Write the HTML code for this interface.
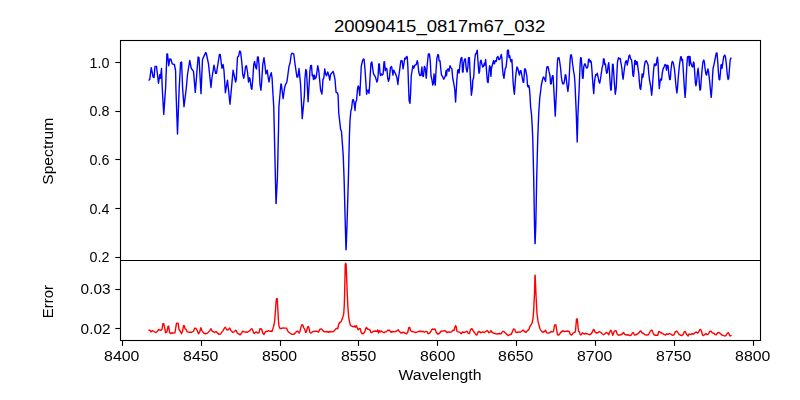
<!DOCTYPE html>
<html><head><meta charset="utf-8">
<style>
html,body{margin:0;padding:0;background:#fff;}
body{width:800px;height:400px;overflow:hidden;font-family:"Liberation Sans",sans-serif;}
svg{display:block}
text{font-family:"Liberation Sans",sans-serif;fill:#000}
</style></head><body>
<svg width="800" height="400" viewBox="0 0 800 400">
<rect width="800" height="400" fill="#fff"/>
<g opacity="0.999"><text x="439.6" y="31.9" font-size="16.80" text-anchor="middle" textLength="211.30" lengthAdjust="spacingAndGlyphs">20090415_0817m67_032</text></g>
<polyline fill="none" stroke="#0000ff" stroke-width="1.4" stroke-linejoin="round" stroke-linecap="butt" points="148.50,80.50 149.75,79.50 151.25,67.60 153.10,77.00 154.00,77.60 155.00,66.40 156.50,66.40 158.50,83.25 159.75,74.75 160.40,78.25 161.50,68.50 162.25,88.00 163.75,114.50 165.60,88.00 166.90,53.90 167.50,53.90 168.75,65.75 169.75,58.90 171.00,59.50 172.25,63.90 174.40,64.50 175.60,70.75 175.90,88.00 177.50,134.00 179.20,88.00 180.60,62.60 181.60,62.00 182.60,88.00 184.00,106.75 186.30,88.00 187.50,74.50 189.75,60.50 191.25,68.25 193.50,71.40 195.30,92.40 198.10,57.00 199.00,57.60 201.00,93.60 202.50,59.50 205.60,52.60 206.25,53.25 208.50,63.90 211.00,87.50 211.90,78.25 214.00,65.10 215.60,73.25 216.50,73.25 219.40,54.50 220.25,54.50 221.90,68.25 223.10,64.50 224.00,70.75 225.40,92.75 227.50,80.10 230.00,104.25 233.10,70.10 235.60,82.00 236.25,79.50 237.50,57.00 238.50,56.40 239.75,51.00 240.60,52.00 241.90,63.25 242.75,74.50 243.75,78.25 244.75,73.25 245.60,66.40 246.50,65.75 247.50,72.00 248.50,82.00 249.40,77.60 250.00,78.90 251.25,88.25 251.90,89.25 252.75,79.50 253.75,64.50 254.60,61.40 255.60,67.00 256.50,68.90 257.50,57.00 258.25,57.00 259.00,64.50 260.00,84.50 260.90,90.25 261.60,83.25 262.75,64.50 264.00,57.60 265.00,65.75 265.90,73.90 266.50,72.60 267.25,70.10 268.10,77.00 269.00,82.00 270.00,76.40 271.25,72.60 272.10,78.25 272.60,88.00 273.75,106.75 274.30,130.00 275.40,178.00 276.00,203.50 276.10,203.50 277.40,178.00 278.50,130.00 278.90,106.75 280.10,93.00 280.90,84.00 281.40,84.50 283.10,98.60 284.50,88.50 285.25,85.10 286.90,82.00 288.10,73.25 289.00,66.40 290.00,63.25 291.25,54.50 291.90,53.25 293.75,53.90 294.75,62.00 296.00,70.75 296.90,77.00 297.90,77.00 299.00,68.50 299.60,74.50 300.60,85.00 302.25,118.60 304.40,95.50 304.90,79.50 305.75,69.50 306.50,70.75 307.25,85.00 308.10,101.75 309.40,80.00 309.90,71.00 310.60,65.75 311.50,65.50 312.25,75.75 312.90,75.10 313.50,79.50 314.40,75.10 315.00,78.90 316.25,77.00 317.75,65.75 318.75,70.75 319.75,80.75 320.60,90.10 321.90,94.00 322.60,86.00 322.90,79.50 323.75,78.25 324.75,68.90 325.60,73.90 326.50,75.75 327.75,72.00 328.75,75.10 329.75,80.10 330.60,74.50 331.90,72.90 333.10,71.40 334.00,74.50 335.00,79.50 335.70,88.00 336.10,92.40 337.50,93.00 338.10,95.50 338.75,113.00 339.75,121.75 340.60,129.25 341.50,131.50 343.20,155.00 344.10,179.00 345.30,225.00 346.00,249.75 346.10,249.75 347.00,225.00 348.40,178.00 349.40,136.00 350.00,120.50 350.90,110.50 351.50,109.25 352.50,100.50 353.25,99.50 354.00,101.75 355.00,110.50 355.60,103.00 356.60,99.90 357.50,89.00 358.20,85.90 358.80,87.00 359.75,95.50 360.40,84.00 361.25,66.40 362.50,60.75 363.50,58.90 364.10,59.50 365.00,69.50 366.00,84.50 366.60,94.25 367.50,90.50 368.10,90.00 369.00,93.25 369.60,86.00 370.00,78.25 371.00,63.25 371.90,62.00 372.50,67.00 373.50,73.90 374.75,75.75 375.60,77.60 376.90,82.00 377.50,80.75 378.10,75.75 378.75,63.90 379.40,63.90 380.00,73.25 380.60,75.50 381.25,73.90 382.25,75.10 383.10,73.90 384.00,62.00 384.50,61.75 385.25,70.75 386.00,68.25 386.90,68.90 387.75,78.25 388.50,81.40 389.40,78.25 390.40,67.60 391.50,66.40 392.25,70.10 392.90,75.10 393.75,70.10 394.60,72.00 395.60,73.90 396.90,77.60 397.90,84.50 398.50,78.25 399.40,72.00 400.25,65.10 400.90,60.75 402.10,60.75 403.10,68.90 404.00,63.25 404.75,58.25 405.60,58.90 406.50,56.40 407.25,57.00 407.90,67.00 408.50,85.00 409.10,100.50 410.00,103.25 410.60,93.00 411.25,76.00 412.25,69.50 412.90,65.75 413.75,68.25 415.00,65.10 416.25,64.50 417.25,60.75 417.90,63.25 418.75,72.00 419.75,75.50 421.00,75.10 421.90,67.00 422.50,75.75 423.40,76.40 424.40,66.40 425.25,68.25 426.25,78.25 427.25,64.50 428.40,53.90 429.40,53.90 430.25,60.75 431.00,75.75 431.90,79.50 432.75,85.10 433.50,83.25 434.00,73.90 434.60,79.50 435.25,85.10 436.00,70.75 436.90,58.25 437.90,54.50 438.50,55.10 439.10,60.75 440.00,60.75 440.60,67.00 441.50,75.10 442.50,76.40 443.75,79.25 444.60,77.60 445.40,75.75 446.00,70.75 446.50,75.75 447.25,69.50 448.25,68.90 449.00,71.40 450.00,65.75 450.90,67.60 451.90,68.90 452.75,78.25 453.75,83.25 454.75,89.50 455.60,102.00 456.50,86.00 456.90,79.50 457.75,70.10 458.50,69.75 459.10,73.00 460.00,64.50 460.90,58.25 461.90,57.60 462.50,72.00 463.10,72.00 463.75,62.60 464.75,58.90 465.40,58.90 466.25,68.90 467.10,72.00 467.90,67.00 468.50,57.60 469.40,57.60 470.00,70.75 470.60,82.00 471.40,95.25 472.40,88.00 472.75,80.75 473.75,77.00 474.60,60.75 475.40,54.50 476.25,53.25 477.25,50.10 477.75,58.25 478.50,68.25 479.00,73.25 479.60,71.40 480.25,62.00 481.00,60.10 481.90,63.90 482.75,67.00 483.50,66.40 484.40,63.25 485.00,65.10 485.60,59.50 486.25,67.00 486.90,75.75 487.50,82.00 488.10,82.60 488.75,74.50 489.60,65.75 490.25,67.00 490.90,76.40 491.50,68.25 492.50,64.50 493.50,60.75 494.40,63.90 495.25,60.75 496.25,61.40 496.90,57.60 497.90,56.40 498.75,59.50 499.60,59.50 500.40,57.60 501.25,54.50 501.90,58.25 502.50,68.25 503.10,74.50 504.00,78.25 504.60,73.25 505.25,68.25 506.00,67.60 506.90,59.50 507.50,50.10 508.40,50.10 509.00,57.60 509.75,55.75 510.60,60.75 511.25,62.00 511.90,59.50 512.50,69.50 513.10,82.00 513.75,89.50 514.40,94.25 515.25,82.00 516.00,73.25 516.90,67.00 517.75,68.25 518.75,72.60 519.40,75.10 520.25,70.75 521.00,70.75 521.90,75.75 523.10,82.00 523.75,82.30 524.60,68.90 525.40,68.90 526.25,73.25 526.90,76.40 527.50,85.75 528.10,87.00 528.75,85.50 529.40,88.25 530.00,95.50 530.60,106.75 531.50,114.25 532.25,127.00 532.75,138.00 533.70,178.00 534.50,225.00 535.00,243.60 535.10,243.60 535.80,225.00 536.70,178.00 537.75,138.00 538.75,113.00 539.75,98.00 540.80,90.00 541.25,85.75 542.25,80.75 543.10,77.60 543.75,77.00 544.75,79.50 545.60,81.40 546.25,72.00 546.90,67.00 548.10,66.75 549.00,71.40 550.00,75.75 550.60,83.90 551.25,83.90 551.90,78.25 552.50,75.75 553.10,76.00 553.75,88.00 555.25,116.10 556.60,88.00 556.90,73.25 557.50,60.75 558.10,57.60 559.00,57.60 559.75,62.00 560.60,68.25 561.25,75.75 561.90,80.75 562.75,83.90 563.75,83.90 564.60,80.10 565.25,74.75 565.90,75.10 566.50,80.75 567.25,87.00 567.90,91.50 568.75,84.50 569.40,73.25 570.00,62.00 570.60,55.10 571.25,54.75 571.90,57.60 572.50,63.25 573.50,70.75 574.40,75.75 575.00,84.00 576.25,113.00 577.20,142.10 578.00,113.00 579.20,88.00 579.50,79.50 580.00,67.00 580.60,57.60 581.25,58.00 581.90,67.00 582.50,78.25 583.10,78.25 583.75,67.00 584.60,63.90 585.25,63.90 586.25,67.60 587.10,68.00 587.90,66.40 588.50,59.50 589.10,58.90 590.00,62.00 590.60,60.75 591.25,62.00 591.90,69.50 592.50,78.25 593.10,87.00 593.75,93.60 594.40,83.25 595.00,78.25 595.60,74.75 596.50,75.10 597.25,73.25 598.10,77.00 599.00,82.00 599.75,83.25 600.60,78.25 601.50,72.00 602.25,67.00 602.90,65.10 603.50,58.90 604.10,58.90 604.75,64.50 605.40,63.90 606.00,69.50 606.60,73.25 607.25,72.60 608.10,65.75 608.75,62.60 609.40,70.75 610.00,80.75 610.70,90.00 611.20,90.00 611.90,78.25 612.50,64.50 613.10,64.25 613.75,73.25 614.40,83.25 615.30,94.25 616.20,88.00 616.90,73.25 617.50,62.00 618.50,57.60 619.40,58.90 620.25,58.50 621.00,63.25 621.90,68.25 622.50,75.75 623.10,79.25 623.75,73.90 624.60,67.00 625.60,61.40 626.50,60.75 627.25,65.10 628.10,60.75 629.00,55.75 629.75,55.10 630.60,58.90 631.50,59.50 632.25,65.75 632.90,75.10 633.50,76.40 634.10,70.75 634.75,60.75 635.40,60.50 636.00,64.50 636.50,61.75 637.25,62.00 637.90,67.60 638.75,73.25 639.40,82.00 640.00,88.25 640.70,89.50 641.50,82.00 642.10,73.90 642.75,77.60 643.50,74.50 644.40,65.75 645.25,61.40 646.25,60.75 647.10,62.60 648.10,65.10 648.75,73.25 649.60,80.75 650.60,85.75 651.70,95.25 652.50,86.00 652.90,79.50 653.75,68.25 654.40,63.90 655.00,65.75 655.60,63.90 656.25,65.10 656.90,59.50 657.50,57.25 658.10,63.25 658.75,79.50 659.30,88.60 660.00,82.00 660.60,78.90 661.50,80.10 662.25,73.25 663.10,68.90 664.00,67.00 665.00,64.50 665.90,65.10 666.50,70.10 667.25,65.10 668.10,65.75 668.75,73.25 669.60,79.50 670.25,79.50 671.00,69.50 671.90,62.60 672.50,61.40 673.40,63.25 674.40,68.90 675.00,74.50 675.60,82.00 676.25,88.25 676.90,93.00 677.50,88.25 678.10,79.50 678.75,72.00 679.60,63.90 680.60,57.00 681.25,56.75 681.90,60.75 682.50,59.50 683.10,67.00 683.75,78.25 684.40,88.25 685.10,97.40 685.80,88.00 686.25,77.00 686.90,64.50 687.50,57.00 688.75,56.40 689.40,65.75 690.00,56.40 690.60,62.00 691.25,63.90 692.10,66.40 692.75,67.00 693.50,62.00 694.10,63.25 694.75,73.25 695.40,83.25 696.00,85.75 696.60,82.00 697.50,72.00 698.10,68.25 698.75,74.50 699.40,84.50 700.00,90.25 700.60,88.90 701.25,79.50 702.10,69.50 702.90,62.00 703.75,60.10 704.40,62.00 705.00,68.25 705.90,73.90 706.60,75.10 707.25,71.40 707.90,68.90 708.50,71.40 709.00,75.75 709.75,82.00 710.40,89.50 711.20,97.40 712.10,86.00 712.50,77.00 713.10,68.25 714.00,64.50 715.25,58.25 716.25,53.25 717.00,53.00 717.75,62.00 718.50,73.25 719.10,79.50 719.75,79.75 720.40,73.25 721.00,65.10 721.60,64.50 722.10,68.25 722.75,63.25 723.75,56.40 724.75,55.10 725.60,57.60 726.50,65.75 727.25,74.50 728.10,79.50 728.75,78.25 729.40,69.50 730.25,59.50 731.25,57.60"/>
<polyline fill="none" stroke="#ff0000" stroke-width="1.4" stroke-linejoin="round" stroke-linecap="butt" points="148.50,330.25 150.00,330.25 151.00,331.90 152.50,330.60 153.75,331.25 155.60,332.50 156.90,331.90 158.75,329.40 160.00,330.25 161.90,329.75 162.90,323.75 163.75,323.75 164.75,328.10 165.60,332.75 166.90,331.90 168.10,326.25 168.75,326.25 169.60,332.75 170.60,333.50 172.25,332.75 173.75,333.10 175.00,332.75 176.00,326.25 176.60,323.10 178.10,323.10 179.00,329.40 180.25,331.25 181.50,333.75 182.50,331.25 183.50,325.60 184.25,325.60 185.00,328.75 186.00,329.40 187.25,331.90 189.40,332.25 191.90,332.25 193.50,331.25 194.75,328.10 196.00,328.50 197.25,330.60 198.50,333.75 199.75,331.90 200.90,327.75 201.90,330.60 203.75,333.10 205.60,333.75 207.50,333.10 209.75,330.60 211.00,328.75 212.25,331.25 213.75,331.90 214.75,332.50 216.00,331.50 217.50,333.10 219.00,334.40 220.60,334.00 221.90,331.90 223.10,330.60 224.40,328.10 225.40,327.25 226.90,330.00 228.10,329.75 229.75,328.10 231.00,330.60 232.50,332.25 234.00,331.90 235.60,330.25 236.25,330.60 237.25,333.10 238.75,334.00 240.25,334.75 241.50,333.10 242.50,331.25 243.75,331.50 245.00,332.25 246.25,331.90 247.50,332.25 248.75,331.25 250.00,330.60 251.00,329.00 252.25,329.00 253.10,331.25 254.00,333.50 255.60,332.25 256.50,331.90 257.50,333.10 259.00,332.75 259.75,329.00 261.00,328.75 261.90,330.00 262.75,333.10 264.00,334.40 265.00,332.25 266.25,331.25 267.25,331.50 268.50,330.60 269.75,331.25 271.00,331.00 272.00,331.50 273.10,328.10 274.00,325.00 274.75,320.00 275.40,311.25 276.00,302.50 276.50,298.75 277.25,298.75 277.75,307.50 278.40,320.00 279.00,326.25 280.00,328.50 281.25,328.50 283.10,327.90 285.00,328.10 286.50,328.10 287.50,330.60 288.75,332.25 290.60,333.50 291.90,334.40 293.50,334.40 295.00,333.10 296.25,331.90 297.50,331.00 298.50,331.90 299.10,333.10 300.00,331.25 301.00,326.90 301.90,324.75 302.75,325.00 303.75,327.75 304.75,329.40 305.60,332.25 306.50,331.90 307.50,327.25 308.40,326.50 309.00,328.10 309.75,332.25 311.00,333.10 312.25,331.90 313.50,331.50 315.00,331.25 316.90,331.25 318.50,332.25 319.75,329.40 321.00,328.75 322.25,329.75 323.50,331.25 325.00,331.90 326.90,331.50 328.50,332.25 330.00,331.50 331.90,331.90 333.50,331.50 335.00,330.00 336.25,328.50 337.75,328.50 338.75,324.00 340.00,322.25 341.00,321.90 341.90,319.40 342.90,316.90 343.75,313.75 344.30,305.00 344.60,295.00 345.25,264.20 345.70,263.30 346.15,264.50 347.30,295.00 347.90,307.50 348.75,317.50 349.60,322.50 350.60,325.60 351.90,326.00 353.10,326.90 354.40,326.00 355.40,327.25 356.25,325.60 357.25,327.75 358.10,329.75 359.40,328.50 360.25,328.75 361.25,332.50 362.25,333.75 363.50,333.50 364.75,331.90 365.60,328.75 366.50,327.50 367.50,329.00 368.75,329.40 370.00,330.00 370.90,332.50 371.90,332.50 373.10,331.50 375.00,331.00 376.90,331.25 377.75,330.00 378.50,333.10 379.40,330.60 380.25,331.90 381.25,331.00 382.50,331.90 384.00,332.75 385.00,331.90 386.25,331.90 387.75,330.25 389.40,330.25 391.00,332.25 392.50,331.50 394.40,331.90 396.25,331.25 398.10,329.75 399.40,331.50 401.00,333.10 402.50,332.50 403.75,332.25 405.00,333.10 406.50,333.75 407.75,332.25 408.75,327.75 409.75,327.50 410.60,330.60 411.90,331.50 413.75,331.90 415.60,332.50 417.50,331.90 419.40,331.25 421.25,331.50 423.10,331.25 424.40,332.25 425.60,331.50 426.90,331.50 428.10,333.75 429.75,333.10 431.25,330.60 432.25,329.00 433.50,329.40 435.00,329.00 436.25,332.25 437.50,334.00 439.40,333.50 441.00,331.25 442.50,331.00 444.40,330.60 445.60,331.00 446.90,332.50 448.50,331.90 450.00,332.25 451.50,331.90 453.10,330.00 454.00,330.60 455.00,327.25 455.60,325.60 456.25,326.90 456.90,331.25 458.10,331.90 459.75,332.25 461.25,333.75 462.50,331.90 464.00,332.50 465.60,331.90 466.90,331.25 468.10,333.10 469.40,333.50 470.60,329.40 471.90,328.75 473.10,330.60 474.40,332.50 475.60,334.40 476.90,335.00 478.10,331.90 479.40,331.50 480.60,332.75 482.50,331.90 484.40,332.50 486.25,331.00 487.50,330.60 488.75,332.75 490.00,332.25 491.00,330.60 492.25,332.50 493.75,333.10 495.60,333.75 497.50,334.00 499.40,333.50 501.25,333.75 502.50,331.50 504.00,331.50 505.25,332.75 506.90,334.40 508.10,335.60 509.75,334.75 511.50,334.00 512.50,331.25 513.50,329.00 514.75,329.40 515.60,331.90 516.90,332.50 518.50,331.90 520.25,332.25 521.50,331.50 523.10,330.00 524.40,331.50 526.00,332.25 527.50,330.60 529.00,329.40 530.00,326.25 531.00,325.00 532.10,323.10 533.00,318.75 533.70,310.00 534.15,300.00 534.45,295.00 534.95,275.30 535.15,275.30 536.00,295.00 536.40,302.50 537.00,313.75 538.10,321.90 539.10,325.60 540.00,328.75 541.25,331.00 542.75,332.25 544.40,331.50 545.60,330.25 546.50,332.75 548.10,333.10 549.75,332.75 551.00,331.50 552.50,331.90 553.50,331.50 554.40,326.00 555.00,324.75 555.90,325.00 556.60,329.40 557.50,334.75 558.75,335.00 560.00,333.50 561.50,331.50 563.10,331.00 564.75,331.50 566.50,331.25 568.10,331.00 569.40,331.90 570.25,334.40 571.90,335.00 573.10,333.10 574.60,332.25 575.40,331.90 576.00,325.00 576.50,319.00 577.25,319.00 577.90,325.00 578.50,331.25 579.40,331.90 580.40,334.75 581.25,334.75 582.50,332.75 584.00,334.00 585.60,333.50 587.50,333.75 589.40,334.75 591.00,334.00 592.25,332.25 593.40,329.40 594.10,329.75 595.00,331.90 596.50,333.10 597.75,332.75 599.40,331.50 600.60,332.25 601.90,333.50 603.50,334.75 605.00,333.75 606.25,332.50 607.50,333.10 608.75,334.75 610.00,331.25 611.00,330.25 611.90,332.50 612.75,335.25 614.00,331.90 615.00,330.60 616.25,331.00 617.25,334.40 618.75,335.25 620.60,334.75 622.25,334.00 623.50,332.50 624.75,334.40 626.50,335.00 628.10,334.75 629.75,335.60 631.25,335.00 632.50,332.75 633.50,332.75 634.40,335.00 636.00,334.75 637.50,334.00 639.00,332.75 640.00,331.25 641.00,331.00 641.90,332.75 643.50,333.50 645.00,334.75 646.90,335.00 648.50,334.75 649.75,332.25 651.00,330.25 652.00,330.25 652.90,332.50 654.00,334.75 655.60,335.25 657.75,335.25 658.75,331.50 659.75,331.90 661.00,332.75 662.50,333.50 664.00,334.40 665.60,335.00 666.90,333.75 668.10,334.40 669.40,333.50 671.00,334.40 672.50,335.25 674.00,334.75 675.25,331.90 676.25,331.25 677.25,331.50 678.50,333.75 680.00,335.00 681.90,335.60 683.10,334.40 684.10,331.90 685.25,331.50 686.25,333.75 687.25,335.25 688.10,336.00 689.00,334.00 690.60,334.40 692.25,333.75 693.75,334.00 695.00,332.75 696.25,331.90 697.50,333.10 698.50,332.25 699.75,329.75 700.75,329.40 701.60,331.50 702.50,335.00 703.50,335.60 704.75,334.40 706.00,333.50 707.25,334.75 708.50,334.00 709.75,331.25 711.00,331.25 712.25,332.75 713.50,333.10 715.00,334.40 716.25,334.75 717.75,332.75 719.00,332.50 720.25,333.50 721.90,335.00 723.50,335.60 725.25,336.00 726.50,334.75 727.50,333.10 728.40,332.75 729.40,335.00 730.25,336.00 731.50,335.25"/>
<g stroke="#000" stroke-width="1.1" fill="none">
<rect x="120.5" y="40.5" width="640" height="300"/>
<line x1="120" y1="260.5" x2="761" y2="260.5"/>
<line x1="122.50" y1="340.5" x2="122.50" y2="345.9"/>
<line x1="201.50" y1="340.5" x2="201.50" y2="345.9"/>
<line x1="280.50" y1="340.5" x2="280.50" y2="345.9"/>
<line x1="358.50" y1="340.5" x2="358.50" y2="345.9"/>
<line x1="437.50" y1="340.5" x2="437.50" y2="345.9"/>
<line x1="516.50" y1="340.5" x2="516.50" y2="345.9"/>
<line x1="595.50" y1="340.5" x2="595.50" y2="345.9"/>
<line x1="674.50" y1="340.5" x2="674.50" y2="345.9"/>
<line x1="753.50" y1="340.5" x2="753.50" y2="345.9"/>
<line x1="115.3" y1="62.50" x2="120.5" y2="62.50"/>
<line x1="115.3" y1="111.50" x2="120.5" y2="111.50"/>
<line x1="115.3" y1="159.50" x2="120.5" y2="159.50"/>
<line x1="115.3" y1="208.50" x2="120.5" y2="208.50"/>
<line x1="115.3" y1="257.50" x2="120.5" y2="257.50"/>
<line x1="115.3" y1="289.50" x2="120.5" y2="289.50"/>
<line x1="115.3" y1="328.50" x2="120.5" y2="328.50"/>
</g>
<g opacity="0.999">
<text x="121.75" y="361" font-size="14.00" text-anchor="middle" textLength="35.30" lengthAdjust="spacingAndGlyphs">8400</text>
<text x="200.75" y="361" font-size="14.00" text-anchor="middle" textLength="35.30" lengthAdjust="spacingAndGlyphs">8450</text>
<text x="279.55" y="361" font-size="14.00" text-anchor="middle" textLength="35.30" lengthAdjust="spacingAndGlyphs">8500</text>
<text x="358.65" y="361" font-size="14.00" text-anchor="middle" textLength="35.30" lengthAdjust="spacingAndGlyphs">8550</text>
<text x="437.65" y="361" font-size="14.00" text-anchor="middle" textLength="35.30" lengthAdjust="spacingAndGlyphs">8600</text>
<text x="515.75" y="361" font-size="14.00" text-anchor="middle" textLength="35.30" lengthAdjust="spacingAndGlyphs">8650</text>
<text x="594.65" y="361" font-size="14.00" text-anchor="middle" textLength="35.30" lengthAdjust="spacingAndGlyphs">8700</text>
<text x="673.75" y="361" font-size="14.00" text-anchor="middle" textLength="35.30" lengthAdjust="spacingAndGlyphs">8750</text>
<text x="752.75" y="361" font-size="14.00" text-anchor="middle" textLength="35.30" lengthAdjust="spacingAndGlyphs">8800</text>
<text x="99.5" y="68.00" font-size="14.00" text-anchor="middle" textLength="19.90" lengthAdjust="spacingAndGlyphs">1.0</text>
<text x="99.5" y="116.00" font-size="14.00" text-anchor="middle" textLength="19.90" lengthAdjust="spacingAndGlyphs">0.8</text>
<text x="99.5" y="165.00" font-size="14.00" text-anchor="middle" textLength="19.90" lengthAdjust="spacingAndGlyphs">0.6</text>
<text x="99.5" y="214.00" font-size="14.00" text-anchor="middle" textLength="19.90" lengthAdjust="spacingAndGlyphs">0.4</text>
<text x="99.5" y="262.00" font-size="14.00" text-anchor="middle" textLength="19.90" lengthAdjust="spacingAndGlyphs">0.2</text>
<text x="95.6" y="294.00" font-size="14.00" text-anchor="middle" textLength="30.00" lengthAdjust="spacingAndGlyphs">0.03</text>
<text x="95.6" y="334.00" font-size="14.00" text-anchor="middle" textLength="30.00" lengthAdjust="spacingAndGlyphs">0.02</text>
<text x="440" y="379.8" font-size="14.00" text-anchor="middle" textLength="83.00" lengthAdjust="spacingAndGlyphs">Wavelength</text>
<text transform="translate(52.7,151.3) rotate(-90)" font-size="14.00" text-anchor="middle" textLength="67.00" lengthAdjust="spacingAndGlyphs">Spectrum</text>
<text transform="translate(52.8,301.6) rotate(-90)" font-size="14.00" text-anchor="middle" textLength="33.20" lengthAdjust="spacingAndGlyphs">Error</text>
</g>
</svg>
</body></html>
